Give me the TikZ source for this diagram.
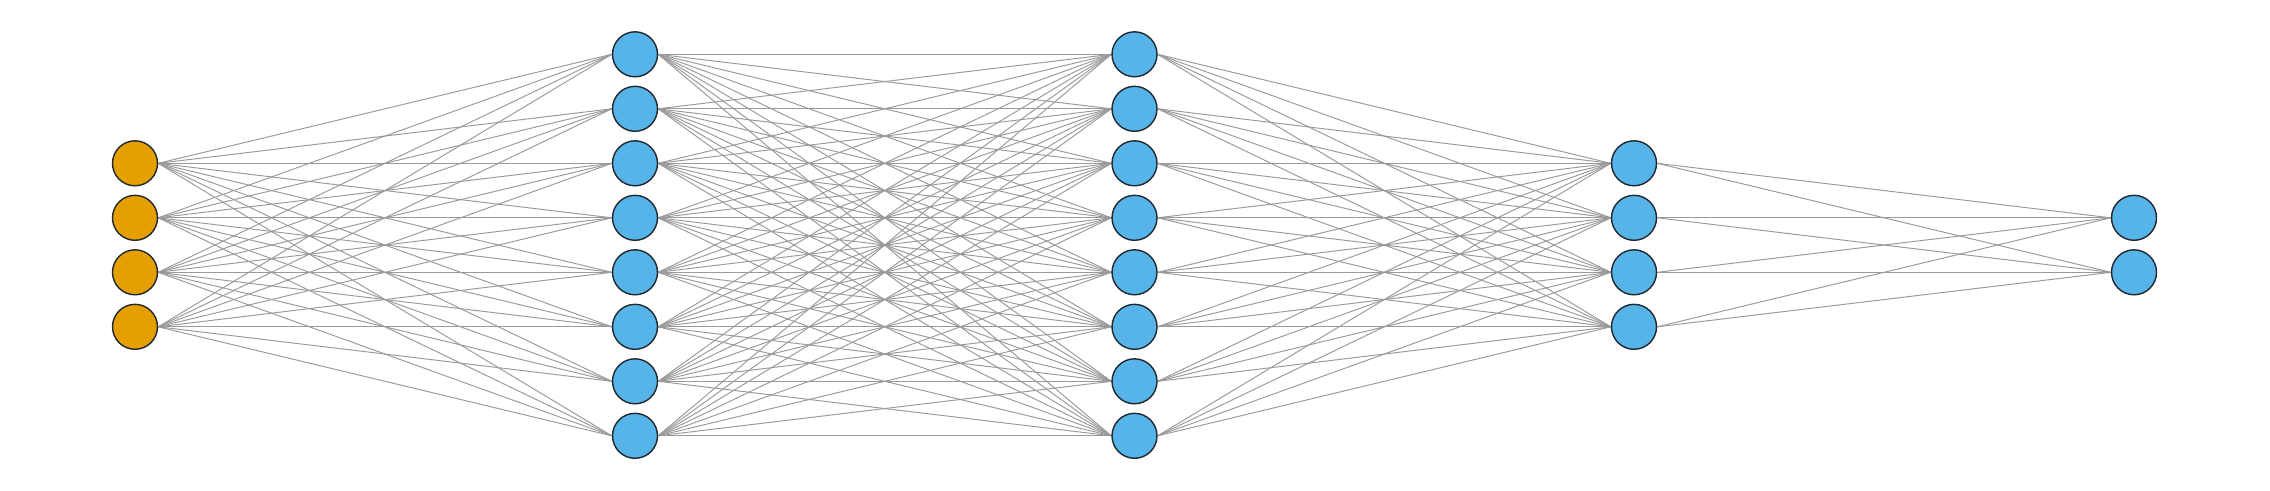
\documentclass[tikz,border=0pt]{standalone}
\usetikzlibrary{backgrounds}
\definecolor{inputc}{HTML}{E69F00}
\definecolor{hidc}{HTML}{56B4E9}
\definecolor{edgec}{HTML}{9A9A9A}
\definecolor{rimc}{HTML}{202830}
\begin{document}
\begin{tikzpicture}[x=0.02cm,y=-0.02cm,
  neuron/.style={circle,draw=rimc,line width=0.8pt,minimum size=0.9cm,inner sep=0pt},
  inneuron/.style={neuron,fill=inputc},
  hidneuron/.style={neuron,fill=hidc},
  link/.style={draw=edgec,line width=0.55pt}]
\useasboundingbox (0,0) rectangle (2270,490);
% nodes
\foreach \k [count=\i] in {2,...,5}
  \node[inneuron] (a\i) at (135,54.3+54.5*\k) {};
\foreach \k [count=\i] in {0,...,7}
  \node[hidneuron] (b\i) at (635,54.3+54.5*\k) {};
\foreach \k [count=\i] in {0,...,7}
  \node[hidneuron] (c\i) at (1134.5,54.3+54.5*\k) {};
\foreach \k [count=\i] in {2,...,5}
  \node[hidneuron] (d\i) at (1634,54.3+54.5*\k) {};
\foreach \k [count=\i] in {3,4}
  \node[hidneuron] (e\i) at (2134,54.3+54.5*\k) {};
% edges behind nodes
\begin{scope}[on background layer]
\foreach \i in {1,...,4}\foreach \j in {1,...,8}
  \path[link] (a\i.east) -- (b\j.west);
\foreach \i in {1,...,8}\foreach \j in {1,...,8}
  \path[link] (b\i.east) -- (c\j.west);
\foreach \i in {1,...,8}\foreach \j in {1,...,4}
  \path[link] (c\i.east) -- (d\j.west);
\foreach \i in {1,...,4}\foreach \j in {1,...,2}
  \path[link] (d\i.east) -- (e\j.west);
\end{scope}
\end{tikzpicture}
\end{document}
